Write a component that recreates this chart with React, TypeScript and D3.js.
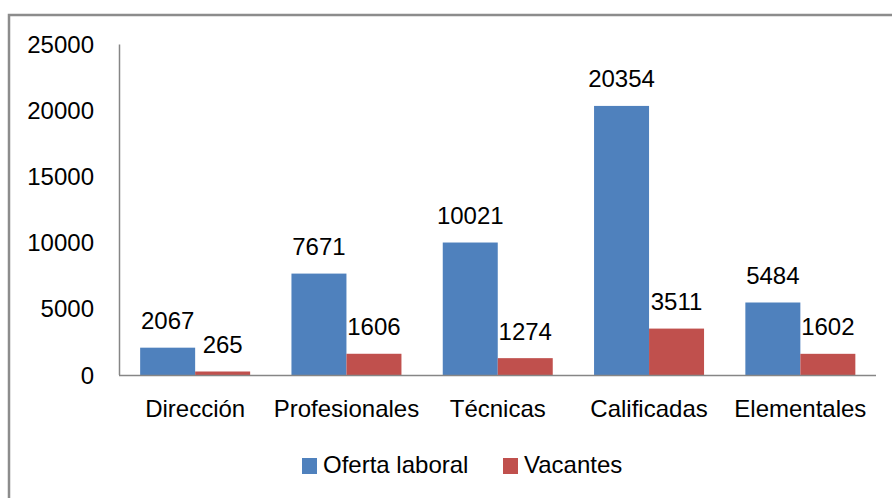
import React, { useEffect, useRef } from "react";
import * as d3 from "d3";

const categories = ["Dirección", "Profesionales", "Técnicas", "Calificadas", "Elementales"];
const seriesNames = ["Oferta laboral", "Vacantes"];
const ofertaLaboral = [2067, 7671, 10021, 20354, 5484];
const vacantes = [265, 1606, 1274, 3511, 1602];
const yTicks = [0, 5000, 10000, 15000, 20000, 25000];
const colors = ["#4F81BD", "#C0504D"];

const W = 892;
const H = 498;
const FONT = "'Liberation Sans', Arial, sans-serif";

export default function App() {
  const ref = useRef<SVGSVGElement | null>(null);

  useEffect(() => {
    const svg = d3.select(ref.current);
    svg.selectAll("*").remove();

    // outer frame
    svg.append("rect")
      .attr("x", 9).attr("y", 15)
      .attr("width", W + 20).attr("height", H + 20)
      .attr("fill", "#fff")
      .attr("stroke", "#8c8c8c").attr("stroke-width", 2.5);

    const x0 = d3.scaleBand<string>().domain(categories).range([119.5, 876]).paddingInner(0.273).paddingOuter(0.1365);
    const x1 = d3.scaleBand<string>().domain(seriesNames).range([0, x0.bandwidth()]);
    const y = d3.scaleLinear().domain([0, 25000]).range([375, 44.5]);

    const g = svg.append("g");

    const series = [ofertaLaboral, vacantes];
    series.forEach((vals, si) => {
      g.selectAll(null)
        .data(vals)
        .enter()
        .append("rect")
        .attr("x", (_d, i) => (x0(categories[i]) as number) + (x1(seriesNames[si]) as number))
        .attr("y", (d) => y(d))
        .attr("width", x1.bandwidth())
        .attr("height", (d) => y(0) - y(d))
        .attr("fill", colors[si]);
      g.selectAll(null)
        .data(vals)
        .enter()
        .append("text")
        .attr("x", (_d, i) => (x0(categories[i]) as number) + (x1(seriesNames[si]) as number) + x1.bandwidth() / 2)
        .attr("y", (d) => y(d) - 18.5)
        .attr("text-anchor", "middle")
        .attr("font-family", FONT)
        .attr("font-size", 24)
        .attr("fill", "#000")
        .text((d) => String(d));
    });

    // axes lines
    g.append("line").attr("x1", 119.5).attr("x2", 119.5).attr("y1", 44.5).attr("y2", 375)
      .attr("stroke", "#868686").attr("stroke-width", 1.5);
    g.append("line").attr("x1", 119).attr("x2", 876).attr("y1", 375.5).attr("y2", 375.5)
      .attr("stroke", "#868686").attr("stroke-width", 1.5);

    // y tick labels
    g.selectAll(null).data(yTicks).enter().append("text")
      .attr("x", 94)
      .attr("y", (d) => y(d) + 8.5)
      .attr("text-anchor", "end")
      .attr("font-family", FONT)
      .attr("font-size", 24)
      .attr("fill", "#000")
      .text((d) => String(d));

    // category labels
    g.selectAll(null).data(categories).enter().append("text")
      .attr("x", (d) => (x0(d) as number) + x0.bandwidth() / 2)
      .attr("y", 417)
      .attr("text-anchor", "middle")
      .attr("font-family", FONT)
      .attr("font-size", 24)
      .attr("fill", "#000")
      .text((d) => d);

    // legend
    const legendX = [302, 503];
    seriesNames.forEach((name, i) => {
      g.append("rect").attr("x", legendX[i]).attr("y", 458).attr("width", 15).attr("height", 16)
        .attr("fill", colors[i]);
      g.append("text").attr("x", legendX[i] + 21).attr("y", 473)
        .attr("font-family", FONT).attr("font-size", 24).attr("fill", "#000").text(name);
    });
  }, []);

  return (
    <svg ref={ref} width={W} height={H} style={{ position: "absolute", left: 0, top: 0, background: "#fff" }} />
  );
}
